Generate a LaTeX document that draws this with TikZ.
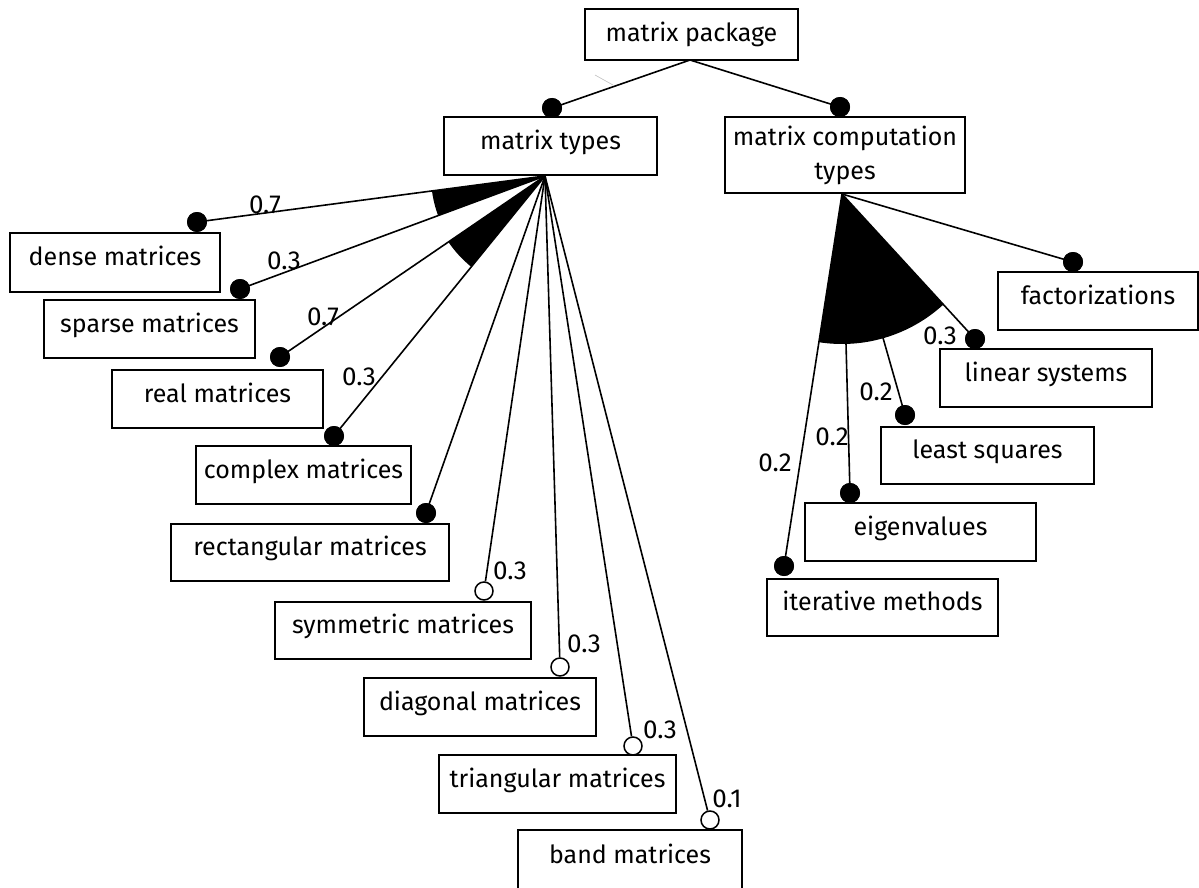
\documentclass[tikz,border=0pt]{standalone}
\usepackage{fontspec}
\setmainfont{Fira Sans}
\usetikzlibrary{calc}
\begin{document}
\begin{tikzpicture}[x=0.5pt,y=-0.5pt,
  box/.style={draw,line width=1pt,inner sep=0pt,align=center,text height=9pt,text depth=6pt,font=\fontsize{12.5}{17}\selectfont},
  fdot/.style={circle,fill=black,inner sep=0pt,minimum size=10pt},
  odot/.style={circle,draw,fill=white,line width=0.75pt,inner sep=0pt,minimum size=9pt},
  link/.style={line width=0.8pt},
  wt/.style={font=\fontsize{13}{15}\selectfont,inner sep=0pt}]
\useasboundingbox (0,0) rectangle (1199,888);
% boxes
\node[box,minimum width=106.5pt,minimum height=25.5pt,text height=,text depth=] (pkg) at (691.5,34.5) {matrix package};
\node[box,minimum width=106.5pt,minimum height=29pt] (types) at (550.5,146) {matrix types};
\node[box,minimum width=120pt,minimum height=38pt,text height=,text depth=] (comp) at (845,155) {matrix computation\\types};
\node[box,minimum width=105pt,minimum height=29.5pt] (dense) at (115,262.5) {dense matrices};
\node[box,minimum width=105.5pt,minimum height=29pt] (sparse) at (149.5,329) {sparse matrices};
\node[box,minimum width=105.5pt,minimum height=29pt] (real) at (217.5,399) {real matrices};
\node[box,minimum width=107.5pt,minimum height=29pt] (complex) at (303.5,475) {complex matrices};
\node[box,minimum width=139pt,minimum height=28.5pt] (rect) at (310,552.5) {rectangular matrices};
\node[box,minimum width=128pt,minimum height=28.5pt] (symm) at (403,630.5) {symmetric matrices};
\node[box,minimum width=116pt,minimum height=29pt] (diag) at (480,707) {diagonal matrices};
\node[box,minimum width=118.5pt,minimum height=29pt] (tri) at (557.5,784) {triangular matrices};
\node[box,minimum width=112pt,minimum height=30pt] (band) at (630,860) {band matrices};
\node[box,minimum width=100pt,minimum height=29pt] (fact) at (1098,301) {factorizations};
\node[box,minimum width=106pt,minimum height=29pt] (lin) at (1046,378) {linear systems};
\node[box,minimum width=106.5pt,minimum height=28.5pt] (lsq) at (987.5,455.5) {least squares};
\node[box,minimum width=115.5pt,minimum height=29pt] (eig) at (920.5,532) {eigenvalues};
\node[box,minimum width=115.5pt,minimum height=28.5pt] (iter) at (882.5,607.5) {iterative methods};
% apexes
\coordinate (pa) at (690,60);
\coordinate (ta) at (545,176);
\coordinate (ca) at (842,194);
% dots
\node[fdot] (dtypes) at (552,108) {};
\node[fdot] (dcomp) at (840,107) {};
\node[fdot] (ddense) at (197,222) {};
\node[fdot] (dsparse) at (240,289) {};
\node[fdot] (dreal) at (280,357) {};
\node[fdot] (dcomplex) at (334,436) {};
\node[fdot] (drect) at (426,513) {};
\node[odot] (dsymm) at (484,591) {};
\node[odot] (ddiag) at (560,667) {};
\node[odot] (dtri) at (633,746) {};
\node[odot] (dband) at (710,820) {};
\node[fdot] (dfact) at (1073,262) {};
\node[fdot] (dlin) at (975,339) {};
\node[fdot] (dlsq) at (905,415) {};
\node[fdot] (deig) at (850,493) {};
\node[fdot] (diter) at (784,566) {};
% or-group sectors
\fill let \p1=($(ddense)-(ta)$), \p2=($(dsparse)-(ta)$), \n1={atan2(\y1,\x1)}, \n2={atan2(\y2,\x2)} in
  (ta) -- ($(ta)!57pt!(ddense)$) arc[start angle=\n1, end angle=\n2, radius=57pt] -- cycle;
\fill let \p1=($(dreal)-(ta)$), \p2=($(dcomplex)-(ta)$), \n1={atan2(\y1,\x1)}, \n2={atan2(\y2,\x2)} in
  (ta) -- ($(ta)!58.5pt!(dreal)$) arc[start angle=\n1, end angle=\n2, radius=58.5pt] -- cycle;
\fill let \p1=($(diter)-(ca)$), \p2=($(dlin)-(ca)$), \n1={atan2(\y1,\x1)}, \n2={atan2(\y2,\x2)} in
  (ca) -- ($(ca)!75pt!(diter)$) arc[start angle=\n1, end angle=\n2, radius=75pt] -- cycle;
% connectors
\draw[link] (pa) -- (dtypes.center);
\draw[link] (pa) -- (dcomp.center);
\foreach \d in {ddense,dsparse,dreal,dcomplex,drect}
  \draw[link] (ta) -- (\d.center);
\foreach \d in {dsymm,ddiag,dtri,dband}
  \draw[link] (ta) -- (\d);
\foreach \d in {dfact,dlin,dlsq,deig,diter}
  \draw[link] (ca) -- (\d.center);
% redraw dots on top
\foreach \d in {dtypes,dcomp,ddense,dsparse,dreal,dcomplex,drect,dfact,dlin,dlsq,deig,diter}
  \fill (\d.center) circle[radius=5pt];
% faint stroke
\draw[gray!50,line width=0.3pt] (595,75) -- (613,85);
% weights
\node[wt] (w1) at (265,205) {0.7};
\node[wt] (w2) at (284,261) {0.3};
\node[wt] (w3) at (323,317) {0.7};
\node[wt] (w4) at (359,377) {0.3};
\node[wt] (w5) at (510,571) {0.3};
\node[wt] (w6) at (584,644) {0.3};
\node[wt] (w7) at (660,730) {0.3};
\node[wt] (w8) at (727,799) {0.1};
\node[wt] (w9) at (940,336) {0.3};
\node[wt] (w10) at (876,392) {0.2};
\node[wt] (w11) at (832,437) {0.2};
\node[wt] (w12) at (775,463) {0.2};
\end{tikzpicture}
\end{document}
